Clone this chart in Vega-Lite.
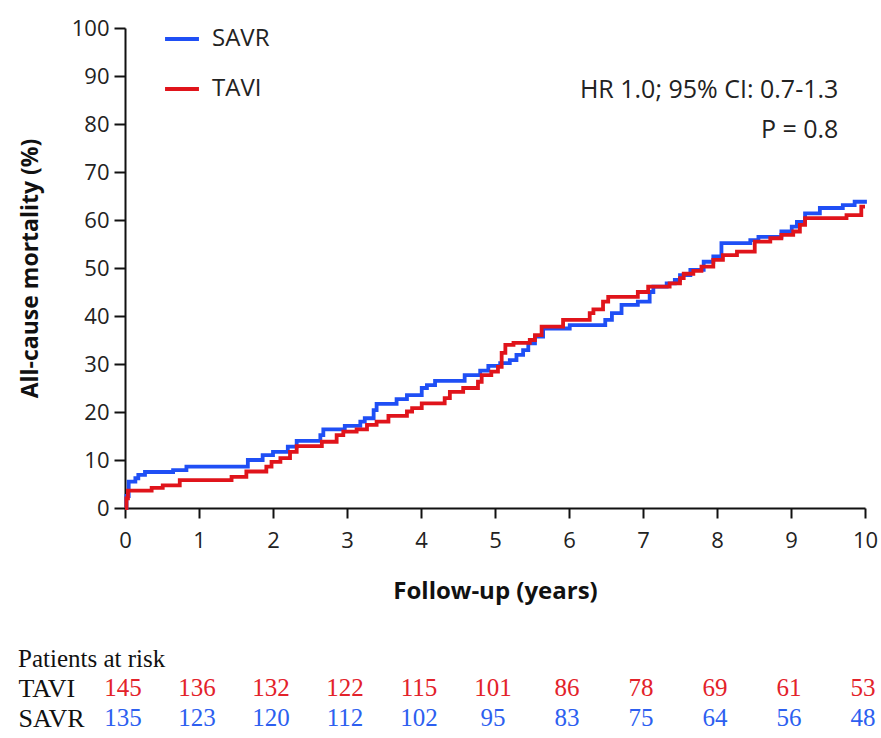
{
  "$schema": "https://vega.github.io/schema/vega-lite/v6.json",
  "background": "white",
  "padding": {"left": 18, "top": 17, "right": 5, "bottom": 0},
  "config": {"view": {"stroke": null}, "font": "Open Sans"},
  "datasets": {
    "curves": [
      {"t": 0, "m": 0, "g": "SAVR"}, {"t": 0.02, "m": 2.5, "g": "SAVR"}, {"t": 0.05, "m": 5.5, "g": "SAVR"}, {"t": 0.14, "m": 6.2, "g": "SAVR"}, {"t": 0.18, "m": 6.9, "g": "SAVR"}, {"t": 0.27, "m": 7.5, "g": "SAVR"}, {"t": 0.65, "m": 7.9, "g": "SAVR"}, {"t": 0.83, "m": 8.6, "g": "SAVR"}, {"t": 1.66, "m": 10.0, "g": "SAVR"}, {"t": 1.86, "m": 11.0, "g": "SAVR"}, {"t": 2.0, "m": 11.7, "g": "SAVR"}, {"t": 2.2, "m": 12.8, "g": "SAVR"}, {"t": 2.32, "m": 14.0, "g": "SAVR"}, {"t": 2.64, "m": 15.2, "g": "SAVR"}, {"t": 2.68, "m": 16.4, "g": "SAVR"}, {"t": 2.97, "m": 17.1, "g": "SAVR"}, {"t": 3.18, "m": 18.0, "g": "SAVR"}, {"t": 3.24, "m": 18.7, "g": "SAVR"}, {"t": 3.36, "m": 20.4, "g": "SAVR"}, {"t": 3.4, "m": 21.7, "g": "SAVR"}, {"t": 3.67, "m": 22.7, "g": "SAVR"}, {"t": 3.81, "m": 23.5, "g": "SAVR"}, {"t": 4.01, "m": 25.0, "g": "SAVR"}, {"t": 4.08, "m": 25.6, "g": "SAVR"}, {"t": 4.19, "m": 26.5, "g": "SAVR"}, {"t": 4.59, "m": 27.7, "g": "SAVR"}, {"t": 4.8, "m": 28.6, "g": "SAVR"}, {"t": 4.91, "m": 29.6, "g": "SAVR"}, {"t": 5.07, "m": 30.2, "g": "SAVR"}, {"t": 5.2, "m": 30.8, "g": "SAVR"}, {"t": 5.29, "m": 31.9, "g": "SAVR"}, {"t": 5.38, "m": 32.9, "g": "SAVR"}, {"t": 5.45, "m": 34.3, "g": "SAVR"}, {"t": 5.54, "m": 35.7, "g": "SAVR"}, {"t": 5.65, "m": 37.4, "g": "SAVR"}, {"t": 6.01, "m": 38.1, "g": "SAVR"}, {"t": 6.49, "m": 39.2, "g": "SAVR"}, {"t": 6.58, "m": 40.6, "g": "SAVR"}, {"t": 6.71, "m": 42.3, "g": "SAVR"}, {"t": 6.93, "m": 43.0, "g": "SAVR"}, {"t": 7.09, "m": 45.0, "g": "SAVR"}, {"t": 7.14, "m": 46.1, "g": "SAVR"}, {"t": 7.32, "m": 46.8, "g": "SAVR"}, {"t": 7.43, "m": 47.5, "g": "SAVR"}, {"t": 7.5, "m": 48.5, "g": "SAVR"}, {"t": 7.64, "m": 49.6, "g": "SAVR"}, {"t": 7.82, "m": 51.3, "g": "SAVR"}, {"t": 7.95, "m": 52.4, "g": "SAVR"}, {"t": 8.06, "m": 55.2, "g": "SAVR"}, {"t": 8.45, "m": 55.8, "g": "SAVR"}, {"t": 8.56, "m": 56.5, "g": "SAVR"}, {"t": 8.87, "m": 57.6, "g": "SAVR"}, {"t": 9.01, "m": 58.6, "g": "SAVR"}, {"t": 9.08, "m": 59.6, "g": "SAVR"}, {"t": 9.19, "m": 61.4, "g": "SAVR"}, {"t": 9.39, "m": 62.5, "g": "SAVR"}, {"t": 9.7, "m": 63.1, "g": "SAVR"}, {"t": 9.86, "m": 63.8, "g": "SAVR"}, {"t": 10.0, "m": 64.2, "g": "SAVR"},
      {"t": 0, "m": 0, "g": "TAVI"}, {"t": 0.02, "m": 2.0, "g": "TAVI"}, {"t": 0.04, "m": 3.6, "g": "TAVI"}, {"t": 0.36, "m": 4.2, "g": "TAVI"}, {"t": 0.51, "m": 4.7, "g": "TAVI"}, {"t": 0.74, "m": 5.8, "g": "TAVI"}, {"t": 1.44, "m": 6.5, "g": "TAVI"}, {"t": 1.64, "m": 7.6, "g": "TAVI"}, {"t": 1.91, "m": 8.6, "g": "TAVI"}, {"t": 1.98, "m": 9.6, "g": "TAVI"}, {"t": 2.1, "m": 10.4, "g": "TAVI"}, {"t": 2.23, "m": 11.7, "g": "TAVI"}, {"t": 2.32, "m": 12.9, "g": "TAVI"}, {"t": 2.66, "m": 13.8, "g": "TAVI"}, {"t": 2.86, "m": 15.2, "g": "TAVI"}, {"t": 2.95, "m": 15.9, "g": "TAVI"}, {"t": 3.13, "m": 16.4, "g": "TAVI"}, {"t": 3.27, "m": 17.3, "g": "TAVI"}, {"t": 3.4, "m": 18.0, "g": "TAVI"}, {"t": 3.56, "m": 19.2, "g": "TAVI"}, {"t": 3.81, "m": 20.1, "g": "TAVI"}, {"t": 3.88, "m": 20.8, "g": "TAVI"}, {"t": 4.01, "m": 21.8, "g": "TAVI"}, {"t": 4.32, "m": 22.9, "g": "TAVI"}, {"t": 4.39, "m": 24.2, "g": "TAVI"}, {"t": 4.57, "m": 25.0, "g": "TAVI"}, {"t": 4.77, "m": 26.3, "g": "TAVI"}, {"t": 4.82, "m": 27.7, "g": "TAVI"}, {"t": 4.95, "m": 28.4, "g": "TAVI"}, {"t": 5.04, "m": 29.4, "g": "TAVI"}, {"t": 5.09, "m": 32.3, "g": "TAVI"}, {"t": 5.14, "m": 34.0, "g": "TAVI"}, {"t": 5.25, "m": 34.4, "g": "TAVI"}, {"t": 5.47, "m": 35.0, "g": "TAVI"}, {"t": 5.54, "m": 36.0, "g": "TAVI"}, {"t": 5.63, "m": 37.8, "g": "TAVI"}, {"t": 5.92, "m": 39.2, "g": "TAVI"}, {"t": 6.28, "m": 40.6, "g": "TAVI"}, {"t": 6.33, "m": 41.4, "g": "TAVI"}, {"t": 6.46, "m": 43.0, "g": "TAVI"}, {"t": 6.53, "m": 44.0, "g": "TAVI"}, {"t": 6.93, "m": 45.0, "g": "TAVI"}, {"t": 7.07, "m": 46.1, "g": "TAVI"}, {"t": 7.36, "m": 46.8, "g": "TAVI"}, {"t": 7.5, "m": 47.9, "g": "TAVI"}, {"t": 7.55, "m": 48.8, "g": "TAVI"}, {"t": 7.68, "m": 49.4, "g": "TAVI"}, {"t": 7.79, "m": 50.3, "g": "TAVI"}, {"t": 7.95, "m": 51.7, "g": "TAVI"}, {"t": 8.08, "m": 52.7, "g": "TAVI"}, {"t": 8.27, "m": 53.4, "g": "TAVI"}, {"t": 8.51, "m": 55.5, "g": "TAVI"}, {"t": 8.72, "m": 56.2, "g": "TAVI"}, {"t": 8.87, "m": 56.9, "g": "TAVI"}, {"t": 9.03, "m": 57.6, "g": "TAVI"}, {"t": 9.12, "m": 59.0, "g": "TAVI"}, {"t": 9.19, "m": 60.4, "g": "TAVI"}, {"t": 9.75, "m": 61.0, "g": "TAVI"}, {"t": 9.95, "m": 62.8, "g": "TAVI"}, {"t": 10.0, "m": 62.8, "g": "TAVI"}
    ],
    "notes": [
      {"t": 9.64, "m": 87.1, "label": "HR 1.0; 95% CI: 0.7-1.3"},
      {"t": 9.64, "m": 78.8, "label": "P = 0.8"}
    ],
    "risk": [
      {"t": 0, "g": "TAVI", "n": 145}, {"t": 1, "g": "TAVI", "n": 136}, {"t": 2, "g": "TAVI", "n": 132}, {"t": 3, "g": "TAVI", "n": 122}, {"t": 4, "g": "TAVI", "n": 115}, {"t": 5, "g": "TAVI", "n": 101}, {"t": 6, "g": "TAVI", "n": 86}, {"t": 7, "g": "TAVI", "n": 78}, {"t": 8, "g": "TAVI", "n": 69}, {"t": 9, "g": "TAVI", "n": 61}, {"t": 10, "g": "TAVI", "n": 53},
      {"t": 0, "g": "SAVR", "n": 135}, {"t": 1, "g": "SAVR", "n": 123}, {"t": 2, "g": "SAVR", "n": 120}, {"t": 3, "g": "SAVR", "n": 112}, {"t": 4, "g": "SAVR", "n": 102}, {"t": 5, "g": "SAVR", "n": 95}, {"t": 6, "g": "SAVR", "n": 83}, {"t": 7, "g": "SAVR", "n": 75}, {"t": 8, "g": "SAVR", "n": 64}, {"t": 9, "g": "SAVR", "n": 56}, {"t": 10, "g": "SAVR", "n": 48}
    ]
  },
  "vconcat": [
    {
      "width": 740,
      "height": 480,
      "layer": [
        {
          "data": {"name": "curves"},
          "mark": {"type": "line", "interpolate": "step-after", "strokeWidth": 3.8},
          "encoding": {
            "x": {"field": "t", "type": "quantitative", "scale": {"domain": [0, 10], "nice": false},
                  "axis": {"values": [0,1,2,3,4,5,6,7,8,9,10], "format": "d", "labelFlush": false, "title": "Follow-up (years)", "grid": false,
                           "domainColor": "#111", "domainWidth": 2, "tickColor": "#111", "tickWidth": 2, "tickSize": 10,
                           "labelFontSize": 22, "labelColor": "#222", "labelPadding": 12, "labelFont": "Open Sans",
                           "titleFontSize": 24, "titleFontWeight": "bold", "titleColor": "#111", "titlePadding": 28, "titleFont": "Open Sans"}},
            "y": {"field": "m", "type": "quantitative", "scale": {"domain": [0, 100], "nice": false},
                  "axis": {"values": [0,10,20,30,40,50,60,70,80,90,100], "title": "All-cause mortality (%)", "grid": false,
                           "domainColor": "#111", "domainWidth": 2, "tickColor": "#111", "tickWidth": 2, "tickSize": 11,
                           "labelFontSize": 22, "labelColor": "#222", "labelPadding": 5, "labelFont": "Open Sans",
                           "titleFontSize": 23, "titleFontWeight": "bold", "titleColor": "#111", "titlePadding": 29, "titleFont": "Open Sans"}},
            "color": {"field": "g", "type": "nominal",
                      "scale": {"domain": ["SAVR", "TAVI"], "range": ["#1f4ff5", "#e0141b"]},
                      "legend": {"title": null, "orient": "none", "legendX": 38, "legendY": -8,
                                 "symbolType": "stroke", "symbolSize": 1150, "symbolStrokeWidth": 3.8,
                                 "labelFontSize": 24, "labelColor": "#222", "labelFont": "Open Sans",
                                 "rowPadding": 19, "labelOffset": 11}}
          }
        },
        {
          "data": {"name": "notes"},
          "mark": {"type": "text", "align": "right", "baseline": "middle", "fontSize": 25, "color": "#222", "font": "Open Sans"},
          "encoding": {
            "x": {"field": "t", "type": "quantitative"},
            "y": {"field": "m", "type": "quantitative"},
            "text": {"field": "label"}
          }
        }
      ]
    },
    {
      "width": 740,
      "height": 60,
      "title": {"text": "Patients at risk", "anchor": "start", "frame": "bounds", "font": "Liberation Serif", "fontSize": 25, "fontWeight": "normal", "color": "#111", "offset": 1},
      "data": {"name": "risk"},
      "mark": {"type": "text", "align": "center", "baseline": "middle", "fontSize": 25, "font": "Liberation Serif", "dx": -2},
      "encoding": {
        "x": {"field": "t", "type": "quantitative", "scale": {"domain": [0, 10], "nice": false}, "axis": null},
        "y": {"field": "g", "type": "nominal", "scale": {"domain": ["TAVI", "SAVR"]},
              "axis": {"title": null, "domain": false, "ticks": false, "labelAlign": "left", "labelPadding": 107,
                       "labelFont": "Liberation Serif", "labelFontSize": 26, "labelColor": "#111"}},
        "text": {"field": "n"},
        "color": {"field": "g", "type": "nominal", "scale": {"domain": ["SAVR", "TAVI"], "range": ["#2d5ff0", "#e3222a"]}, "legend": null}
      }
    }
  ],
  "spacing": 44,
  "resolve": {"scale": {"color": "independent"}}
}
